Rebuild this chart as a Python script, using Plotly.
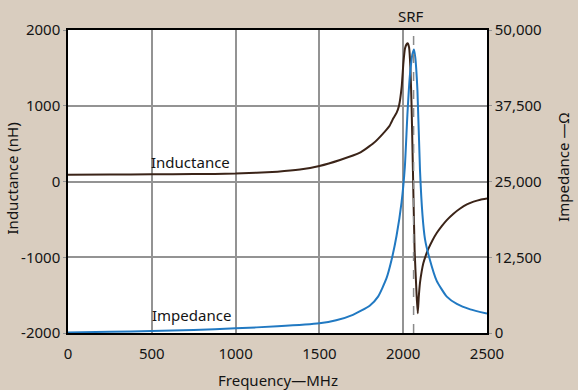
import plotly.graph_objects as go

# ---- data ----
ind_freq = [0, 250, 500, 750, 1000, 1250, 1384, 1500, 1623, 1742, 1822, 1881, 1920, 1941,
            1961, 1975, 1991, 2001, 2011, 2021, 2028, 2035, 2043, 2050, 2058, 2068, 2080,
            2087, 2093, 2100, 2110, 2120, 2135, 2150, 2175, 2200, 2230, 2260, 2300, 2340,
            2380, 2420, 2460, 2500]
ind_nh = [90, 92, 95, 98, 104, 130, 158, 205, 284, 380, 504, 636, 740, 834,
          910, 1000, 1252, 1560, 1758, 1815, 1824, 1770, 1500, 1000, 150, -900, -1500,
          -1740, -1520, -1340, -1190, -1080, -975, -890, -775, -680, -590, -510, -425, -356,
          -302, -266, -240, -225]

imp_freq = [0, 250, 500, 750, 1000, 1250, 1500, 1600, 1700, 1800, 1850, 1900, 1930, 1960,
            1990, 2010, 2025, 2040, 2055, 2064, 2072, 2085, 2100, 2115, 2130, 2155, 2200,
            2260, 2320, 2400, 2500]
imp_ohm = [100, 200, 330, 500, 770, 1100, 1600, 2100, 3000, 4500, 6000, 9000, 12000, 16000,
           21500, 27500, 36000, 42500, 46000, 46800, 45500, 40000, 27000, 19500, 15500, 12500, 8600,
           6000, 4800, 3900, 3200]

srf_mhz = 2062

x_ticks = [0, 500, 1000, 1500, 2000, 2500]
y_ticks = [-2000, -1000, 0, 1000, 2000]
y_labels = ["-2000", "-1000", "0", "1000", "2000"]
y2_ticks = [0, 12500, 25000, 37500, 50000]
y2_labels = ["0", "12,500", "25,000", "37,500", "50,000"]

BG = "#d9cdbf"
BROWN = "#3b2418"
BLUE = "#2179c2"
GRID = "#939393"
FONT = "Noto Sans"
TXT = "#141414"

fig = go.Figure()
fig.add_trace(go.Scatter(x=imp_freq, y=imp_ohm, yaxis="y2", mode="lines",
                         line=dict(color=BLUE, width=2, shape="spline", smoothing=0.5),
                         showlegend=False, hoverinfo="skip"))
fig.add_trace(go.Scatter(x=ind_freq, y=ind_nh, mode="lines",
                         line=dict(color=BROWN, width=2, shape="spline", smoothing=0.4),
                         showlegend=False, hoverinfo="skip"))

fig.add_shape(type="line", xref="x", yref="paper", x0=srf_mhz, x1=srf_mhz, y0=0, y1=1,
              line=dict(color="#8a8a8a", width=1.5, dash="dash"))

fig.update_layout(
    width=578, height=390,
    margin=dict(l=68, r=91, t=30, b=57),
    paper_bgcolor=BG, plot_bgcolor="white",
    font=dict(family=FONT, size=15, color=TXT),
    xaxis=dict(range=[0, 2500], tickvals=x_ticks, showgrid=True, gridcolor=GRID, gridwidth=1.5,
               showline=True, linecolor="black", linewidth=1.5, mirror=True, automargin=False,
               ticks="", zeroline=False, tickfont=dict(size=15), ticklabelstandoff=6),
    yaxis=dict(range=[-2000, 2000], tickvals=y_ticks, ticktext=y_labels, showgrid=True,
               gridcolor=GRID, gridwidth=1.5, automargin=False,
               showline=True, linecolor="black", linewidth=1.5, mirror=True,
               ticks="outside", ticklen=3, tickcolor=GRID, zeroline=False, tickfont=dict(size=15)),
    yaxis2=dict(range=[0, 50000], tickvals=y2_ticks, ticktext=y2_labels, overlaying="y", side="right",
                showgrid=False, zeroline=False, showline=True, linecolor="black", linewidth=1.5,
                automargin=False, ticks="outside", ticklen=3, tickcolor=GRID, tickfont=dict(size=15)),
    annotations=[
        dict(text="SRF", x=srf_mhz, xref="x", y=1, yref="paper", yanchor="bottom", showarrow=False,
             xshift=-3, yshift=2, font=dict(size=15)),
        dict(text="Inductance", x=1000, xref="x", xanchor="right", y=260, yref="y", yanchor="middle",
             showarrow=False, xshift=-4, font=dict(size=15)),
        dict(text="Impedance", x=1000, xref="x", xanchor="right", y=2970, yref="y2", yanchor="middle",
             showarrow=False, xshift=-3, font=dict(size=15)),
        dict(text="Frequency—MHz", x=0.5, xref="paper", y=-0.155, yref="paper", yanchor="middle",
             showarrow=False, font=dict(size=15)),
        dict(text="Inductance (nH)", x=0, xref="paper", xanchor="center", xshift=12 - 68, y=0.51,
             yref="paper", yanchor="middle", textangle=-90, showarrow=False, font=dict(size=15)),
        dict(text="Impedance —Ω", x=1.0, xref="paper", xanchor="center", xshift=76, y=0.545,
             yref="paper", yanchor="middle", textangle=-90, showarrow=False, font=dict(size=15)),
    ],
)

fig.write_html(
    "out.html",
    config={"displayModeBar": False},
    post_script="document.body.style.margin='0';document.body.style.background='#d9cdbf';"
                "document.body.style.overflow='hidden';",
)
